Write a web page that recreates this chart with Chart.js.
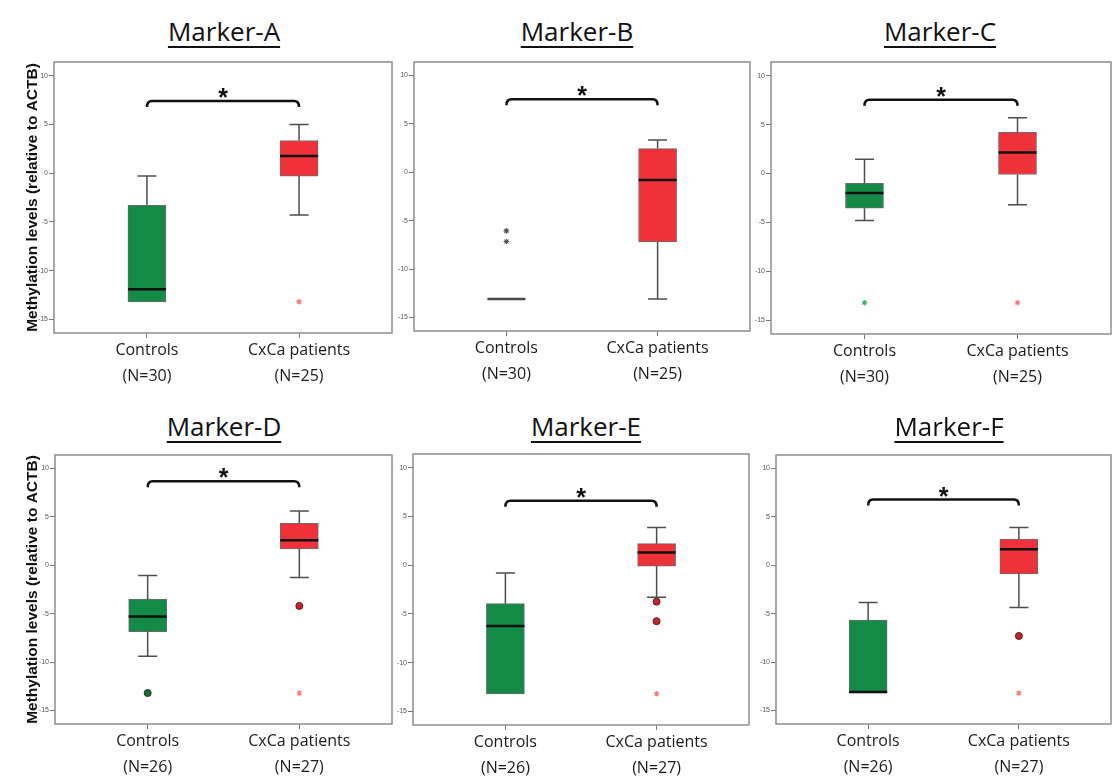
<!DOCTYPE html>
<html>
<head>
<meta charset="utf-8">
<script src="https://cdn.jsdelivr.net/npm/chart.js@4.4.1/dist/chart.umd.min.js"></script>
<style>
  body { margin: 0; background: #fff; width: 1115px; height: 777px; position: relative; overflow: hidden; }
  canvas { position: absolute; }
  .title {
    position: absolute; width: 240px; text-align: center;
    font-family: 'Open Sans', sans-serif; font-size: 26px; line-height: 32px; color: #111;
    text-decoration: underline; text-decoration-thickness: 2px; text-underline-offset: 5px;
  }
</style>
</head>
<body>
<script>
// ---- data ----
const categories = ['Controls', 'CxCa patients'];
const markers = ['Marker-A', 'Marker-B', 'Marker-C', 'Marker-D', 'Marker-E', 'Marker-F'];
const groupSizes = [[30, 25], [30, 25], [30, 25], [26, 27], [26, 27], [26, 27]];
const yTicks = [10, 5, 0, -5, -10, -15];

// [lower whisker, Q1, median, Q3, upper whisker]
const controlsBox = [
  [-13.2, -13.2, -11.9, -3.3, -0.3],
  [-13.1, -13.1, -13.1, -13.1, -13.1],
  [-4.8, -3.55, -2.0, -1.0, 1.45],
  [-9.4, -6.85, -5.3, -3.5, -1.05],
  [-13.2, -13.2, -6.25, -3.95, -0.8],
  [-13.2, -13.2, -13.1, -5.65, -3.85]
];
const patientsBox = [
  [-4.3, -0.3, 1.75, 3.35, 5.0],
  [-13.1, -7.2, -0.8, 2.45, 3.35],
  [-3.2, -0.1, 2.15, 4.2, 5.7],
  [-1.25, 1.7, 2.6, 4.35, 5.6],
  [-3.3, -0.1, 1.3, 2.2, 3.85],
  [-4.35, -0.9, 1.65, 2.7, 3.9]
];
// outliers (circles) and extremes (stars)
const controlsOutliers = [[], [], [], [-13.2], [], []];
const patientsOutliers = [[], [], [], [-4.2], [-3.75, -5.75], [-7.3]];
const controlsExtremes = [[], [-6.05, -7.15], [-13.2], [], [], []];
const patientsExtremes = [[-13.2], [], [-13.2], [-13.2], [-13.2], [-13.2]];
// significance bracket height
const bracketLevels = [7.4, 7.55, 7.55, 8.7, 6.6, 6.8];

// ---- layout / style ----
const panelFrames = [
  [54, 62, 392, 333], [414, 62, 750, 331], [771, 62, 1111, 334],
  [55, 455, 392, 724], [413, 454, 749, 725], [776, 455, 1111, 724]
];
const titleCenters = [[224, 15], [577, 15], [940, 15], [224, 410], [586, 410], [949, 410]];
const boxColors = ['#138b47', '#ef3139'];
const controlsStarColors = ['#3db36b', '#555555', '#3db36b', '#3db36b', '#3db36b', '#3db36b'];
const TOP_PAD = 12, RIGHT_PAD = 6, X_AXIS_H = 62;

function decorations(p) {
  return {
    id: 'boxDecor',
    beforeDatasetsDraw(chart) {
      const { ctx, chartArea: a } = chart;
      ctx.save();
      ctx.strokeStyle = '#8c8c8c';
      ctx.lineWidth = 1.5;
      ctx.strokeRect(a.left, a.top, a.right - a.left, a.bottom - a.top);
      ctx.restore();
    },
    afterDatasetsDraw(chart) {
      const ctx = chart.ctx, xs = chart.scales.x, ys = chart.scales.y;
      ctx.save();
      [controlsBox[p], patientsBox[p]].forEach((s, i) => {
        const x = xs.getPixelForValue(i);
        const [lo, q1, med, q3, hi] = s.map(v => ys.getPixelForValue(v));
        ctx.strokeStyle = '#4d4d4d';
        ctx.lineWidth = 1.5;
        ctx.beginPath();
        if (s[4] > s[3]) {
          ctx.moveTo(x, q3); ctx.lineTo(x, hi);
          ctx.moveTo(x - 9.5, hi); ctx.lineTo(x + 9.5, hi);
        }
        if (s[0] < s[1]) {
          ctx.moveTo(x, q1); ctx.lineTo(x, lo);
          ctx.moveTo(x - 9.5, lo); ctx.lineTo(x + 9.5, lo);
        }
        ctx.stroke();
        ctx.strokeStyle = s[1] === s[3] ? '#4a4a4a' : '#111';
        ctx.lineWidth = 2.5;
        ctx.beginPath();
        ctx.moveTo(x - 19, med); ctx.lineTo(x + 19, med);
        ctx.stroke();
      });
      // significance bracket
      const x0 = xs.getPixelForValue(0), x1 = xs.getPixelForValue(1);
      const yb = ys.getPixelForValue(bracketLevels[p]);
      ctx.strokeStyle = '#111';
      ctx.lineWidth = 2.5;
      ctx.beginPath();
      ctx.moveTo(x0, yb + 6);
      ctx.quadraticCurveTo(x0, yb, x0 + 5, yb);
      ctx.lineTo(x1 - 5, yb);
      ctx.quadraticCurveTo(x1, yb, x1, yb + 6);
      ctx.stroke();
      ctx.fillStyle = '#111';
      ctx.font = 'bold 25px "Liberation Sans"';
      ctx.textAlign = 'center';
      ctx.textBaseline = 'alphabetic';
      ctx.fillText('*', (x0 + x1) / 2, yb + 5);
      ctx.restore();
    }
  };
}

markers.forEach((name, p) => {
  const t = document.createElement('div');
  t.className = 'title';
  t.textContent = name;
  t.style.left = (titleCenters[p][0] - 120) + 'px';
  t.style.top = titleCenters[p][1] + 'px';
  document.body.appendChild(t);

  const [l, top, r, b] = panelFrames[p];
  const hasTitle = p % 3 === 0;
  const axisW = hasTitle ? l : 30;
  const w = axisW + (r - l) + RIGHT_PAD, h = TOP_PAD + (b - top) + X_AXIS_H;
  const canvas = document.createElement('canvas');
  canvas.width = w; canvas.height = h;
  canvas.style.left = (l - axisW) + 'px';
  canvas.style.top = (top - TOP_PAD) + 'px';
  canvas.style.width = w + 'px';
  canvas.style.height = h + 'px';
  document.body.appendChild(canvas);

  const cb = controlsBox[p], pb = patientsBox[p];
  const outlierPts = controlsOutliers[p].map(v => ({ x: 0, y: v }))
    .concat(patientsOutliers[p].map(v => ({ x: 1, y: v })));
  const extremePts = controlsExtremes[p].map(v => ({ x: 0, y: v }))
    .concat(patientsExtremes[p].map(v => ({ x: 1, y: v })));

  new Chart(canvas.getContext('2d'), {
    type: 'bar',
    data: {
      datasets: [{
        data: [{ x: 0, y: [cb[1], cb[3]] }, { x: 1, y: [pb[1], pb[3]] }],
        backgroundColor: boxColors,
        borderColor: '#6b6b6b',
        borderWidth: 1,
        borderSkipped: false,
        barThickness: 38
      }, {
        type: 'scatter',
        data: outlierPts,
        pointStyle: 'circle',
        pointRadius: 3.5,
        backgroundColor: outlierPts.map(d => d.x === 0 ? '#1d6a3b' : '#c0272d'),
        borderColor: outlierPts.map(d => d.x === 0 ? '#0f3d22' : '#6e1418'),
        borderWidth: 1
      }, {
        type: 'scatter',
        data: extremePts,
        pointStyle: 'star',
        pointRadius: 2.8,
        borderColor: extremePts.map(d => d.x === 0 ? controlsStarColors[p] : '#f47a7a'),
        borderWidth: 1.1
      }]
    },
    options: {
      responsive: false,
      devicePixelRatio: 1,
      animation: false,
      layout: { padding: { top: TOP_PAD, right: RIGHT_PAD, left: 0, bottom: 0 } },
      plugins: { legend: { display: false }, tooltip: { enabled: false } },
      scales: {
        x: {
          type: 'linear',
          min: -0.611,
          max: 1.611,
          offset: false,
          afterBuildTicks: s => { s.ticks = categories.map((c, i) => ({ value: i })); },
          afterFit: s => { s.height = X_AXIS_H; },
          grid: { drawOnChartArea: false, drawTicks: true, tickLength: 5, color: '#777', offset: false },
          border: { display: false },
          ticks: {
            autoSkip: false, maxRotation: 0, minRotation: 0, padding: 0,
            color: '#1a1a1a',
            font: { family: 'Open Sans', size: 16, lineHeight: 1.6 },
            callback: v => [categories[v], '(N=' + groupSizes[p][v] + ')']
          }
        },
        y: {
          min: -16.4,
          max: 11.4,
          afterBuildTicks: s => { s.ticks = yTicks.map(v => ({ value: v })); },
          afterFit: s => { s.width = axisW; },
          grid: { drawOnChartArea: false, drawTicks: true, tickLength: 5, color: '#777' },
          border: { display: false },
          ticks: { padding: 1, color: '#555', font: { family: 'Liberation Sans', size: 7 } },
          title: {
            display: hasTitle,
            text: 'Methylation levels (relative to ACTB)',
            color: '#111',
            font: { family: 'Liberation Sans', size: 15.5, weight: 'bold' },
            padding: { top: 23.5, bottom: 0 }
          }
        }
      }
    },
    plugins: [decorations(p)]
  });
});
</script>
</body>
</html>
